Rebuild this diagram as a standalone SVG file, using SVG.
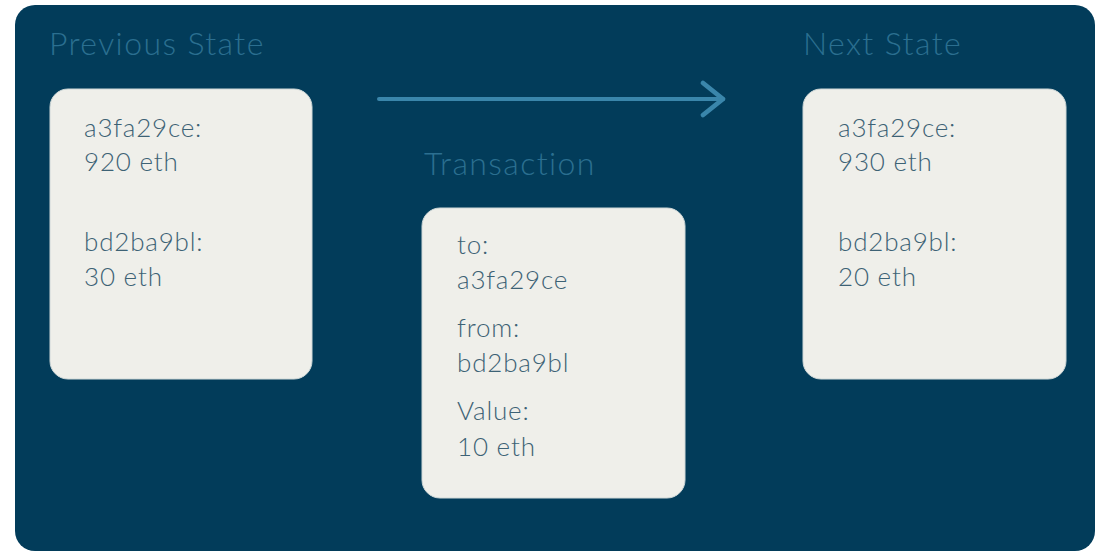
<svg xmlns="http://www.w3.org/2000/svg" width="1102" height="551" viewBox="0 0 1102 551">
<style>
.title{font-family:Lato,"Open Sans",sans-serif;font-weight:300;font-size:32px;letter-spacing:1.4px;fill:#2b6f90}
.box{fill:#efefea;stroke:#cfd8d8;stroke-width:1}
.t{font-family:Lato,"Open Sans",sans-serif;font-weight:300;font-size:26px;letter-spacing:0.8px;fill:#3d6275}
</style>
<defs>
<marker id="chev" markerWidth="8" markerHeight="10" refX="6" refY="5" orient="auto" markerUnits="strokeWidth">
<path d="M1,1 L6,5 L1,9" fill="none" stroke="#3a86ab" stroke-width="1.2" stroke-linecap="round" stroke-linejoin="round"/>
</marker>
</defs>
<rect x="0" y="0" width="1102" height="551" fill="#ffffff"/>
<rect x="15" y="5" width="1080" height="546" rx="20" fill="#023c5a"/>
<g id="prev-title"><text class="title" x="49" y="55">Previous State</text></g>
<g id="next-title"><text class="title" x="803" y="55">Next State</text></g>
<g id="tx-title"><text class="title" x="424" y="175">Transaction</text></g>
<g id="connectors">
<line x1="379" y1="99" x2="723" y2="99" stroke="#3a86ab" stroke-width="4" stroke-linecap="round" marker-end="url(#chev)"/>
</g>
<g id="prev-state">
<rect class="box" x="50" y="89" width="262" height="290" rx="18"/>
<text class="t" x="84" y="137">a3fa29ce:</text>
<text class="t" x="84" y="171">920 eth</text>
<text class="t" x="84" y="251">bd2ba9bl:</text>
<text class="t" x="84" y="286">30 eth</text>
</g>
<g id="transaction">
<rect class="box" x="422" y="208" width="263" height="290" rx="18"/>
<text class="t" x="457" y="254">to:</text>
<text class="t" x="457" y="289">a3fa29ce</text>
<text class="t" x="457" y="337">from:</text>
<text class="t" x="457" y="372">bd2ba9bl</text>
<text class="t" x="457" y="420">Value:</text>
<text class="t" x="457" y="456">10 eth</text>
</g>
<g id="next-state">
<rect class="box" x="803" y="89" width="263" height="290" rx="18"/>
<text class="t" x="838" y="137">a3fa29ce:</text>
<text class="t" x="838" y="171">930 eth</text>
<text class="t" x="838" y="251">bd2ba9bl:</text>
<text class="t" x="838" y="286">20 eth</text>
</g>
</svg>
